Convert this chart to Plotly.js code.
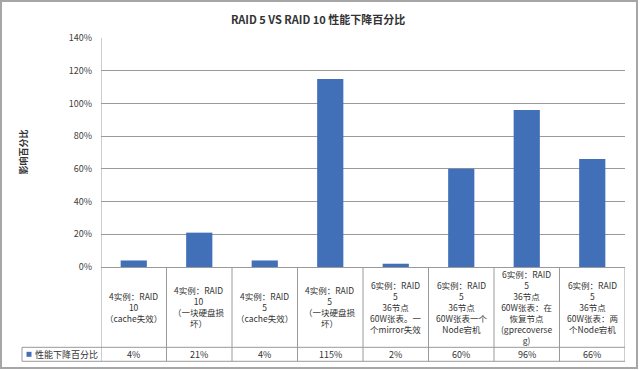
<!DOCTYPE html>
<html>
<head>
<meta charset="utf-8">
<script src="https://cdn.plot.ly/plotly-3.0.1.min.js"></script>
<style>
  html, body { margin: 0; padding: 0; background: #fff; }
  #wrap { position: relative; width: 640px; height: 370px; }
  #chart { width: 640px; height: 370px; }
  #frame { position: absolute; left: 0; top: 0; width: 638px; height: 369px;
           border: 2px solid #a6a6a6; box-sizing: border-box; pointer-events: none; }
</style>
</head>
<body>
<div id="wrap"><div id="chart"></div><div id="frame"></div></div>
<script>
// ---- data ----
const categories = [
  '4实例：RAID<br>10<br>（cache失效）',
  '4实例：RAID<br>10<br>（一块硬盘损<br>坏）',
  '4实例：RAID<br>5<br>（cache失效）',
  '4实例：RAID<br>5<br>（一块硬盘损<br>坏）',
  '6实例：RAID<br>5<br>36节点<br>60W张表。一<br>个mirror失效',
  '6实例：RAID<br>5<br>36节点<br>60W张表一个<br>Node宕机',
  '6实例：RAID<br>5<br>36节点<br>60W张表：在<br>恢复节点<br>(gprecoverse<br>g)',
  '6实例：RAID<br>5<br>36节点<br>60W张表：两<br>个Node宕机'
];
const values = [4, 21, 4, 115, 2, 60, 96, 66];
const tableLabels = ['4%', '21%', '4%', '115%', '2%', '60%', '96%', '66%'];
const seriesName = '性能下降百分比';
const chartTitle = 'RAID 5 VS RAID 10 性能下降百分比';
const yTitle = '影响百分比';

// ---- geometry (pixels) ----
const W = 640, H = 370;
const L = 101, R = 625, T = 38, B = 267.5;
const plotH = B - T, plotW = R - L;
const py = y => (B - y) / plotH;      // pixel y -> paper y
const px = x => (x - L) / plotW;      // pixel x -> paper x
const rowTop = 348, rowBot = 362, legLeft = 22;

const FONT = '"Noto Sans CJK SC", "Noto Sans", sans-serif';
const BAR = '#4170b9';
const LINE = '#9a9a9a';
const TXT = '#333333';

const xs = categories.map((c, i) => i);

const shapes = [];
for (let i = 0; i <= categories.length; i++) {
  shapes.push({type: 'line', xref: 'x', yref: 'paper', x0: i - 0.5, x1: i - 0.5,
    y0: i === 0 ? 1 : 0, y1: py(rowBot), line: {color: LINE, width: 1}});
}
[rowTop, rowBot].forEach(y => shapes.push({type: 'line', xref: 'paper', yref: 'paper',
  x0: px(legLeft), x1: 1, y0: py(y), y1: py(y), line: {color: LINE, width: 1}}));
shapes.push({type: 'line', xref: 'paper', yref: 'paper', x0: px(legLeft), x1: px(legLeft),
  y0: py(rowTop), y1: py(rowBot), line: {color: LINE, width: 1}});
shapes.push({type: 'rect', xref: 'paper', yref: 'paper', x0: px(26.5), x1: px(31.5),
  y0: py(357.5), y1: py(352.5), fillcolor: BAR, line: {width: 0}});

const annotations = [];
categories.forEach((c, i) => {
  annotations.push({xref: 'x', yref: 'paper', x: xs[i], y: py((B + rowTop) / 2 - 0.5),
    text: c, showarrow: false, xanchor: 'center', yanchor: 'middle', align: 'center',
    font: {family: FONT, size: 8.5, color: TXT}});
  annotations.push({xref: 'x', yref: 'paper', x: xs[i], y: py((rowTop + rowBot) / 2),
    text: tableLabels[i], showarrow: false, xanchor: 'center', yanchor: 'middle',
    font: {family: FONT, size: 9, color: TXT}});
});
annotations.push({xref: 'paper', yref: 'paper', x: px(33), y: py((rowTop + rowBot) / 2),
  text: seriesName, showarrow: false, xanchor: 'left', yanchor: 'middle',
  font: {family: FONT, size: 9, color: TXT}});
annotations.push({xref: 'paper', yref: 'paper', x: px(23), y: 0.5, text: '<b>' + yTitle + '</b>',
  textangle: -90, showarrow: false, xanchor: 'center', yanchor: 'middle',
  font: {family: FONT, size: 9, color: TXT}});

const trace = {
  type: 'bar', x: xs, y: values, name: seriesName,
  marker: {color: BAR}, hoverinfo: 'none'
};

const layout = {
  width: W, height: H,
  margin: {l: L, r: W - R, t: T, b: H - B, pad: 0},
  paper_bgcolor: '#fff', plot_bgcolor: '#fff',
  showlegend: false,
  bargap: 0.6,
  title: {text: '<b>' + chartTitle + '</b>', x: 0.497, xref: 'container', xanchor: 'center',
    y: 1 - 20 / H, yref: 'container', yanchor: 'middle',
    font: {family: FONT, size: 11, color: TXT}},
  xaxis: {range: [-0.5, categories.length - 0.5], showticklabels: false, showgrid: false,
    zeroline: false, showline: false, ticks: '', fixedrange: true},
  yaxis: {range: [0, 140], dtick: 20, ticksuffix: '%', showgrid: true, gridcolor: LINE,
    gridwidth: 1, zeroline: true, zerolinecolor: LINE, zerolinewidth: 1,
    showline: false, ticks: '', ticklabelstandoff: 8,
    tickfont: {family: FONT, size: 9, color: '#404040'}, fixedrange: true},
  shapes: shapes,
  annotations: annotations
};

Plotly.newPlot('chart', [trace], layout, {displayModeBar: false, staticPlot: true});
</script>
</body>
</html>
